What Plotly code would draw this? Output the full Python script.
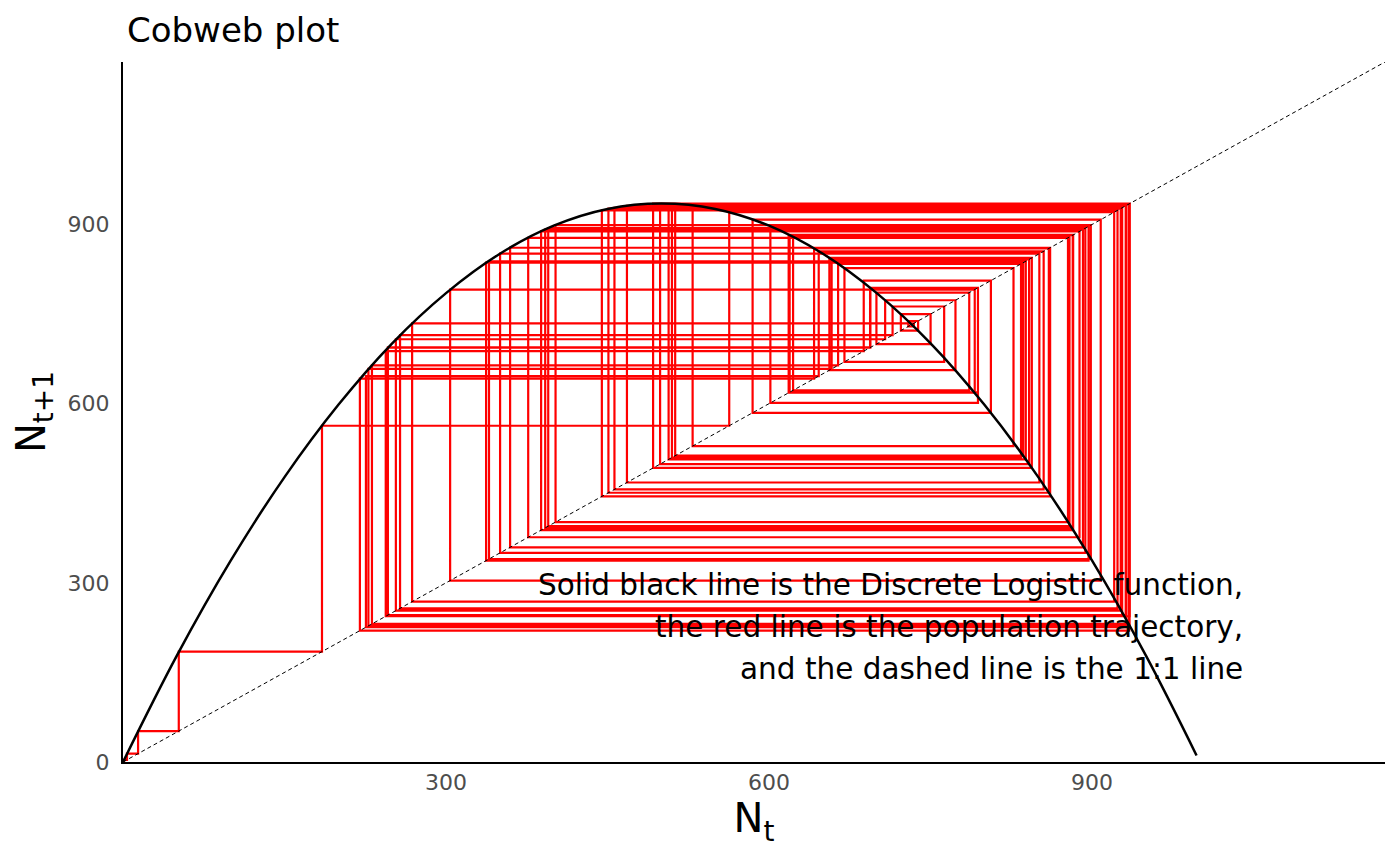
import plotly.graph_objects as go

# population trajectory N_t (vertical line positions)
pop = [1, 3.7, 14, 51.8, 184.8, 563, 920.5, 268.5, 734.5, 729.3, 738.4, 722.4, 750, 699.7,
       785.9, 622.3, 879, 394.9, 893.7, 350.2, 851, 468, 931.2, 246, 693.8, 794, 619.1,
       882, 392.1, 891.5, 359.5, 861, 444.7, 923.6, 257.3, 714.7, 762.6, 670, 827, 529,
       931.9, 231.2, 664.1, 834, 509.8, 934.3, 225.6, 646.1, 855, 456.4, 927.9, 246,
       694.1, 794, 601.2, 896.7, 337.2, 836, 512.8, 934.4, 220, 641.8, 859.8, 450.8,
       926.6, 253.4, 707.8, 773.1, 656, 844, 492.3, 934.8, 227.9, 658.1, 841.5, 498.8,
       935, 244, 687.9, 806, 584.7, 908, 303.8, 791, 618.2, 882.4, 388.3, 888.3, 376.3,
       877.6, 401.7, 898.8, 339.9, 838.4, 506.7, 934.8]

# discrete logistic curve
curve_n = [0, 50, 100, 150, 200, 250, 300, 350, 400, 450, 500, 550, 600, 650, 700, 750, 800, 850, 900, 950, 997]
curve_next = [0, 178, 337, 477, 598, 701, 785, 851, 898, 926, 935, 926, 898, 851, 785, 701, 598, 477, 337, 178, 11]

x_ticks = [300, 600, 900]
y_ticks = [0, 300, 600, 900]
axis_max = 1172

note_lines = [
    "Solid black line is the Discrete Logistic function,",
    "the red line is the population trajectory,",
    "and the dashed line is the 1:1 line",
]

# cobweb path: (N0,0) -> (N0,N1) -> (N1,N1) -> (N1,N2) ...
web_x, web_y = [pop[0]], [0]
for a, b in zip(pop[:-1], pop[1:]):
    web_x += [a, b]
    web_y += [b, b]

fig = go.Figure()
fig.add_trace(go.Scatter(x=web_x, y=web_y, mode="lines",
                         line=dict(color="#FF0000", width=2.2), showlegend=False))
fig.add_trace(go.Scatter(x=curve_n, y=curve_next, mode="lines",
                         line=dict(color="black", width=2.5, shape="spline"), showlegend=False))
fig.add_trace(go.Scatter(x=[0, axis_max], y=[0, axis_max], mode="lines",
                         line=dict(color="black", width=1, dash="4px,3px"), showlegend=False))

for i, line in enumerate(note_lines):
    fig.add_annotation(text=line, xref="paper", yref="paper",
                       x=(1245 - 123) / 1262, y=(762 - 585 - 42 * i) / 700,
                       xanchor="right", yanchor="middle", showarrow=False,
                       font=dict(size=29.5, color="black"))

fig.add_annotation(text="Cobweb plot", xref="paper", yref="paper",
                   x=(125 - 123) / 1262, y=(762 - 30) / 700,
                   xanchor="left", yanchor="middle", showarrow=False,
                   font=dict(size=34, color="black"))

font = "DejaVu Sans, sans-serif"
# the page body adds an 8px offset, so margins are shifted by that amount
fig.update_layout(
    width=1400, height=865,
    paper_bgcolor="white", plot_bgcolor="white",
    margin=dict(l=115, r=23, t=54, b=111),
    font=dict(family=font),
    xaxis=dict(range=[0, axis_max], tickvals=x_ticks, showgrid=False, zeroline=False,
               showline=True, linecolor="black", linewidth=2, ticks="", automargin=False,
               tickfont=dict(size=22, color="#4D4D4D"),
               title=dict(text="N<sub>t</sub>", font=dict(size=40, color="black"), standoff=10)),
    yaxis=dict(range=[0, axis_max], tickvals=y_ticks, showgrid=False, zeroline=False,
               showline=True, linecolor="black", linewidth=2, ticks="", automargin=False,
               ticklabelstandoff=7,
               tickfont=dict(size=22, color="#4D4D4D"),
               title=dict(text="N<sub>t+1</sub>", font=dict(size=40, color="black"), standoff=10)),
)

fig.write_html("out.html")
